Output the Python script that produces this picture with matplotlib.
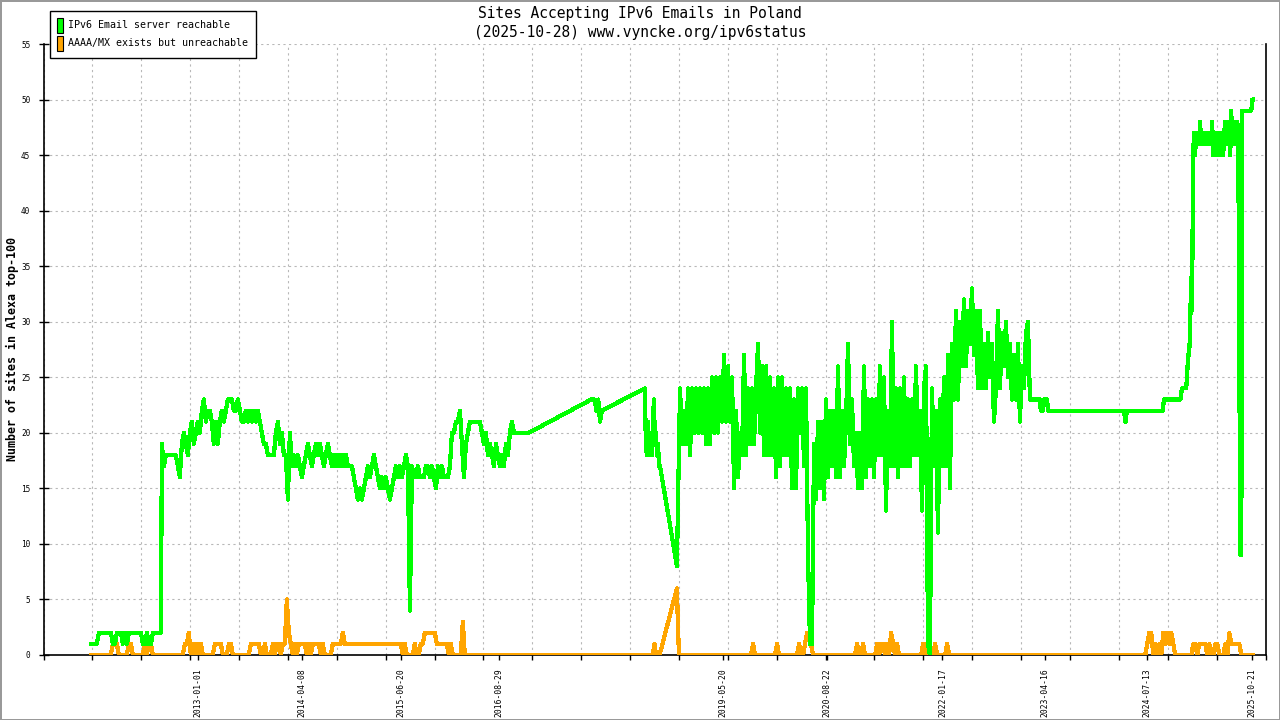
import numpy as np
import matplotlib
matplotlib.use("Agg")
import matplotlib.pyplot as plt
import matplotlib.dates as mdates
import matplotlib.patches as mpatches

plt.rcParams['font.family'] = ['DejaVu Sans Mono']

# --- data --------------------------------------------------------------
# every piece: (first date, last date, values evenly spread between them)
green_pieces = [
    ("2011-09-14", "2012-07-21",
     [1, 1, 1, 1, 2, 2, 2, 2, 2, 2, 2, 1, 1, 2, 2, 2, 1, 2, 1,
      2, 2, 2, 2, 2, 2, 2, 1, 1, 2, 1, 1, 2, 2, 2, 2, 2]),
    ("2012-07-25", "2015-06-16",
     [19, 17, 18, 18, 18, 18, 18, 18, 17, 16,
      19, 20, 19, 18, 20, 21, 19, 20, 21, 20,
      22, 23, 21, 22, 22, 21, 19, 21, 19, 21,
      22, 21, 22, 23, 23, 23, 22, 22, 23, 22,
      21, 21, 22, 21, 22, 21, 22, 21, 22, 21,
      20, 19, 19, 18, 18, 18, 18, 20, 21, 19,
      20, 18, 18, 14, 20, 17, 18, 17, 18, 17,
      16, 17, 18, 19, 18, 17, 18, 19, 18, 19,
      18, 17, 18, 19, 18, 17, 18, 17, 18, 17,
      18, 17, 18, 17, 17, 17, 16, 15, 14, 15,
      14, 15, 16, 17, 16, 17, 18, 17, 16, 15,
      16, 15, 16, 15, 14, 15, 16, 17, 16, 17]),
    ("2015-06-25", "2017-01-04",
     [16, 17, 18, 17, 4, 17, 16, 16, 17, 16,
      16, 16, 17, 17, 16, 17, 16, 15, 17, 16,
      17, 16, 16, 16, 17, 20, 20, 21, 21, 22,
      19, 16, 19, 20, 21, 21, 21, 21, 21, 21,
      20, 19, 20, 18, 19, 18, 17, 19, 18, 17,
      18, 17, 19, 18, 20, 21, 20, 20, 20, 20,
      20, 20, 20, 20]),
    ("2017-01-08", "2017-01-08", [20]),
    ("2017-10-12", "2017-10-12", [23]),
    ("2017-10-19", "2017-11-28", [23, 23, 22, 23, 21, 22]),
    ("2018-06-07", "2018-06-07", [24]),
    ("2018-06-11", "2018-08-13",
     [19, 18, 21, 19, 18, 20, 18, 21, 23, 19, 20, 18, 19, 17, 17]),
    ("2018-10-27", "2018-10-27", [8]),
    ("2018-11-01", "2023-02-09",
     [14, 24, 19, 22, 19, 24, 18, 24, 20, 24,
      20, 24, 20, 24, 19, 24, 19, 25, 20, 25,
      20, 25, 21, 27, 21, 26, 21, 25, 15, 22,
      16, 20, 18, 27, 18, 24, 19, 24, 19, 24,
      28, 20, 26, 18, 26, 18, 25, 18, 24, 16,
      25, 17, 25, 18, 24, 18, 24, 15, 23, 15,
      24, 20, 24, 17, 24, 9, 1, 1, 19, 14,
      21, 15, 21, 14, 23, 16, 22, 17, 22, 16,
      26, 16, 22, 17, 21, 28, 19, 23, 17, 20,
      15, 20, 15, 26, 16, 23, 17, 23, 16, 23,
      18, 26, 18, 25, 13, 22, 17, 30, 17, 24,
      16, 24, 17, 25, 17, 23, 17, 23, 18, 26,
      18, 22, 13, 24, 26, 1, 0, 24, 17, 22,
      11, 23, 17, 25, 17, 27, 15, 28, 23, 31,
      23, 30, 26, 32, 26, 31, 28, 33, 27, 31,
      24, 31, 24, 28, 24, 29, 25, 28, 21, 24,
      31, 24, 29, 26, 30, 25, 28, 23, 27, 23,
      28, 21, 26, 24, 29, 30, 23]),
    ("2023-03-25", "2023-03-25", [23]),
    ("2023-03-29", "2023-03-29", [22]),
    ("2023-04-08", "2023-04-08", [22]),
    ("2023-04-12", "2023-04-12", [23]),
    ("2023-04-26", "2023-04-26", [23]),
    ("2023-04-30", "2023-04-30", [22]),
    ("2024-04-01", "2024-04-01", [22]),
    ("2024-04-08", "2024-04-08", [21]),
    ("2024-04-14", "2024-04-14", [22]),
    ("2024-09-21", "2024-09-21", [22]),
    ("2024-09-25", "2024-09-25", [23]),
    ("2024-12-08", "2024-12-08", [23]),
    ("2024-12-14", "2024-12-14", [24]),
    ("2025-01-02", "2025-01-02", [24]),
    ("2025-01-06", "2025-10-27",
     [25, 27, 27, 29, 34, 31, 45, 47, 45, 47,
      46, 47, 46, 48, 46, 47, 46, 47, 46, 47,
      46, 47, 46, 47, 46, 48, 45, 47, 46, 47,
      45, 47, 45, 47, 46, 47, 45, 47, 48, 46,
      48, 46, 48, 45, 49, 46, 48, 46, 48, 46,
      48, 47, 28, 9, 9, 49, 49, 49, 49, 49,
      49, 49, 49, 49, 49, 50, 50]),
]

orange_pieces = [
    ("2011-09-14", "2016-03-30",
     [0] * 11 + [1, 1, 1] + [0] * 5 + [1, 1] + [0] * 6 + [1, 0, 1, 1]
     + [0] * 16 + [1, 1, 2, 0, 1, 0, 1, 0, 1] + [0] * 6 + [1, 1, 1, 1]
     + [0, 0, 0] + [1, 1] + [0] * 9 + [1, 1, 1, 1, 1] + [0, 0] + [1]
     + [0, 0, 0] + [1, 0, 1, 1, 0, 1, 1, 5, 2, 1]
     + [0, 1, 0, 1, 1, 1, 1, 0, 1, 0, 1, 1, 1, 1, 0, 1, 0]
     + [0, 0, 0] + [1] + [1, 1, 1] + [1, 2] + [1] * 29
     + [0, 1, 0, 0, 0, 0, 1, 0, 0, 1, 1, 2, 2, 2, 2, 2, 2,
        1, 1, 1, 1, 1, 1, 0, 1, 0, 0, 0, 0, 0, 3, 0]),
    ("2018-07-12", "2018-07-12", [0]),
    ("2018-07-19", "2018-07-19", [1]),
    ("2018-07-26", "2018-07-26", [0]),
    ("2018-08-11", "2018-08-11", [0]),
    ("2018-10-27", "2018-10-27", [6]),
    ("2018-10-31", "2018-10-31", [3]),
    ("2018-11-05", "2025-10-27",
     [0] * 37 + [1] + [0] * 11 + [1] + [0] * 10 + [1, 0, 0]
     + [1, 2, 2, 1, 0] + [0] * 21 + [1, 0, 0, 1, 0] + [0] * 5
     + [1, 0, 1, 1, 0, 1, 0, 2, 1, 0, 1] + [0] * 12
     + [1, 0, 1, 0, 0, 0, 1] + [0] * 5 + [1] + [0] * 99
     + [1, 2, 2, 0, 1, 0, 1, 0, 2, 1, 2, 1, 2, 1, 0] + [0] * 8
     + [1, 1, 0, 1, 1, 1, 1, 0, 1, 0, 0, 1, 1, 0, 0, 0, 1, 0, 2,
        1, 1, 1, 1, 1, 0] + [0] * 6),
]

label_dates = ["2013-01-01", "2014-04-08", "2015-06-20", "2016-08-29",
               "2019-05-20", "2020-08-22", "2022-01-17", "2023-04-16",
               "2024-07-13", "2025-10-21"]
y_ticks = list(range(0, 56, 5))

title1 = "Sites Accepting IPv6 Emails in Poland"
title2 = "(2025-10-28) www.vyncke.org/ipv6status"
legend_labels = ["IPv6 Email server reachable", "AAAA/MX exists but unreachable"]
ylabel = "Number of sites in Alexa top-100"


def build(pieces):
    xs, ys = [], []
    for start, end, vals in pieces:
        a, b = mdates.datestr2num(start), mdates.datestr2num(end)
        xs.extend(np.linspace(a, b, len(vals)))
        ys.extend(vals)
    return np.array(xs), np.array(ys)


gx, gy = build(green_pieces)
ox, oy = build(orange_pieces)

fig = plt.figure(figsize=(12.8, 7.2), dpi=100, edgecolor="#999999", linewidth=2)
ax = fig.add_axes([43.5 / 1280, 65 / 720, 1222 / 1280, 611 / 720])

xmin = mdates.datestr2num("2011-02-16")
xmax = mdates.datestr2num("2025-12-20")

ax.plot(ox, oy, color="#ffa500", lw=2.3, zorder=3, antialiased=False)
ax.plot(gx, gy, color="#00ff00", lw=2.3, zorder=4, antialiased=False)

ax.set_xlim(xmin, xmax)
ax.set_ylim(0, 55)
ax.set_yticks(y_ticks)
ax.set_xticks([mdates.datestr2num(d) for d in label_dates])
ax.set_xticklabels(label_dates)
ax.set_xticks(np.linspace(xmin, xmax, 26), minor=True)

ax.grid(which="minor", axis="x", color="#b8b8b8", lw=0.8, ls=(0, (2, 3)))
ax.grid(which="major", axis="y", color="#b8b8b8", lw=0.8, ls=(0, (2, 3)))
ax.grid(which="major", axis="x", visible=False)
ax.set_axisbelow(True)

ax.spines["top"].set_visible(False)
for s in ["left", "bottom", "right"]:
    ax.spines[s].set_linewidth(1.2)

ax.tick_params(axis="x", which="both", direction="out", length=3.6, width=1)
ax.tick_params(axis="x", which="major", labelsize=5.8, pad=5.8, labelrotation=90)
ax.tick_params(axis="y", direction="inout", length=7, width=1, labelsize=5.6, pad=6)

fig.text(0.5, 1 - 18.3 / 720, title1, ha="center", va="baseline", fontsize=10.5)
fig.text(0.5, 1 - 37.3 / 720, title2, ha="center", va="baseline", fontsize=10.5)
fig.text(12 / 1280, 1 - 349.5 / 720, ylabel, rotation=90, ha="center",
         va="center", fontsize=8.4, fontweight="bold")

handles = [mpatches.Patch(facecolor="#00ff00", edgecolor="black", linewidth=0.8),
           mpatches.Patch(facecolor="#ffa500", edgecolor="black", linewidth=0.8)]
leg = fig.legend(handles, legend_labels, loc="upper left",
                 bbox_to_anchor=(50 / 1280, 1 - 10.7 / 720), borderaxespad=0,
                 fontsize=7.2, handlelength=0.6, handleheight=1.93,
                 labelspacing=0.3, borderpad=0.7, handletextpad=0.55,
                 fancybox=False, framealpha=1, edgecolor="black")
leg.get_frame().set_linewidth(1)

fig.savefig("out.png", dpi=100)
